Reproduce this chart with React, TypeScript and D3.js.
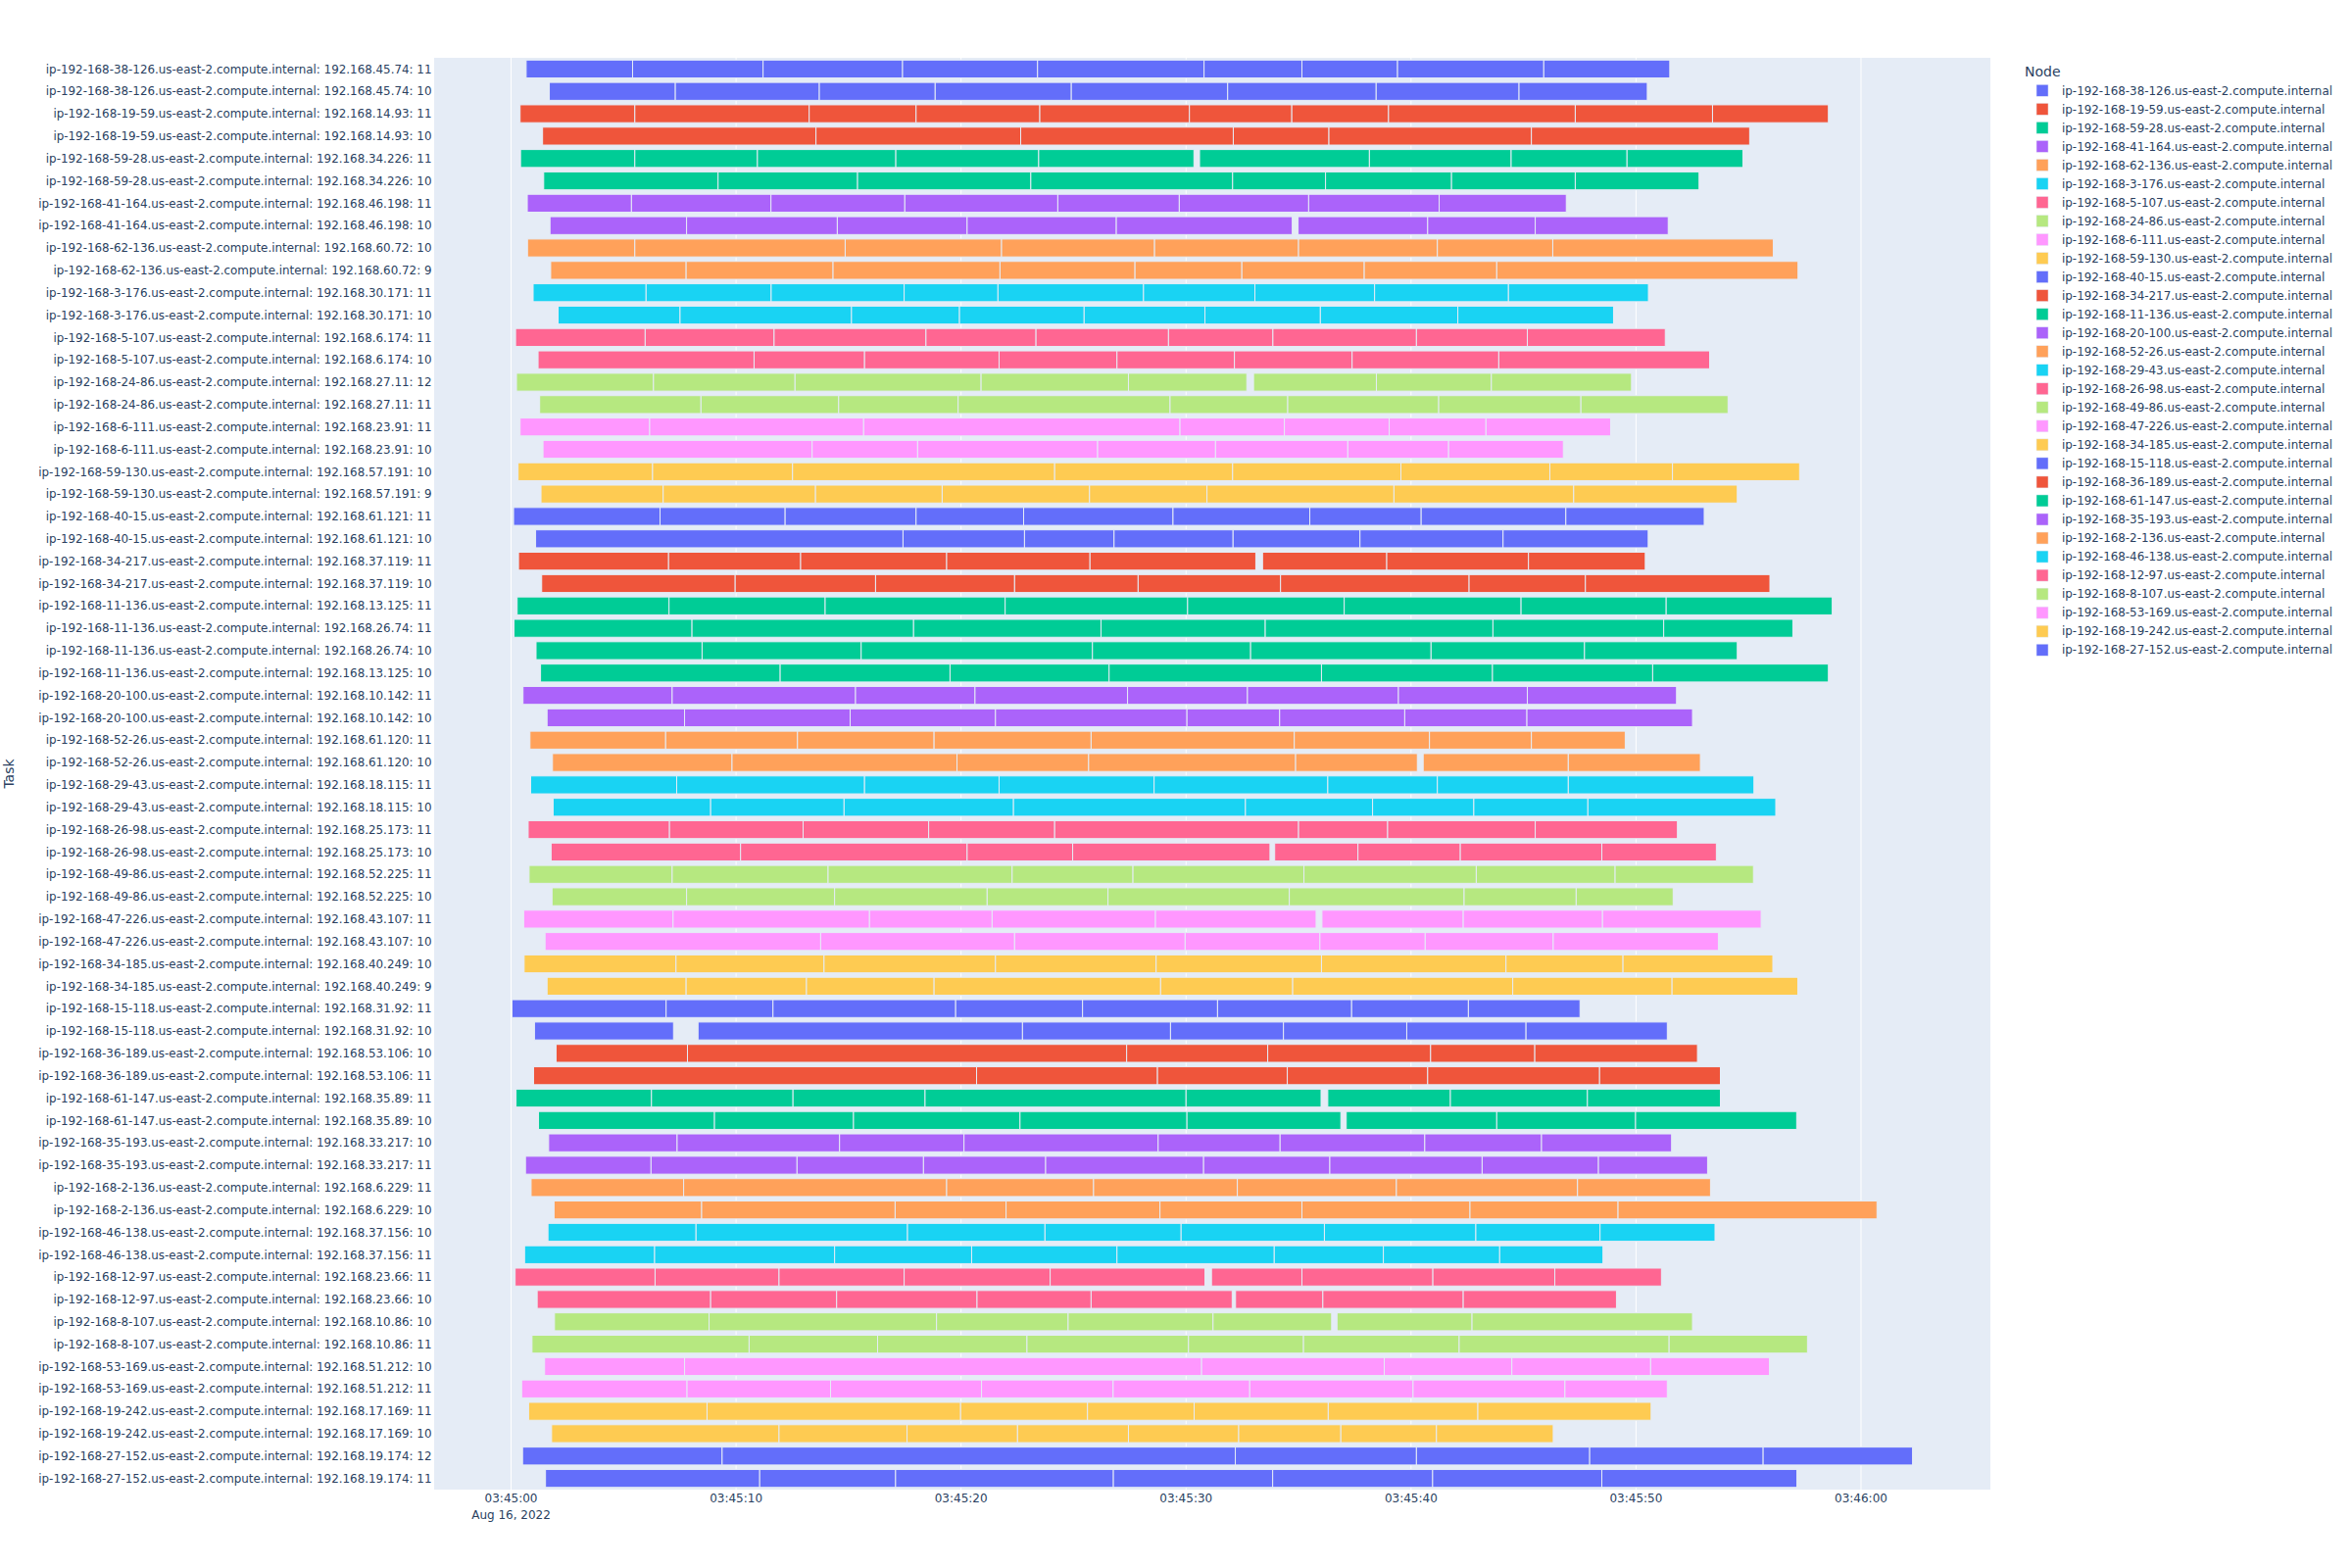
import { useEffect, useRef } from "react";
import * as d3 from "d3";

// legend order = node order (short ids, expanded below)
const nodeIds = [
  "38-126", "19-59", "59-28", "41-164", "62-136", "3-176", "5-107", "24-86",
  "6-111", "59-130", "40-15", "34-217", "11-136", "20-100", "52-26", "29-43",
  "26-98", "49-86", "47-226", "34-185", "15-118", "36-189", "61-147", "35-193",
  "2-136", "46-138", "12-97", "8-107", "53-169", "19-242", "27-152",
];

const palette = [
  "#636efa", "#EF553B", "#00cc96", "#ab63fa", "#FFA15A",
  "#19d3f3", "#FF6692", "#B6E880", "#FF97FF", "#FECB52",
];

// one entry per task row, top to bottom
const taskNode = [
  0, 0, 1, 1, 2, 2, 3, 3, 4, 4, 5, 5, 6, 6, 7, 7, 8, 8, 9, 9, 10, 10, 11, 11,
  12, 12, 12, 12, 13, 13, 14, 14, 15, 15, 16, 16, 17, 17, 18, 18, 19, 19,
  20, 20, 21, 21, 22, 22, 23, 23, 24, 24, 25, 25, 26, 26, 27, 27, 28, 28,
  29, 29, 30, 30,
];

const taskIp = [
  "45.74", "45.74", "14.93", "14.93", "34.226", "34.226", "46.198", "46.198",
  "60.72", "60.72", "30.171", "30.171", "6.174", "6.174", "27.11", "27.11",
  "23.91", "23.91", "57.191", "57.191", "61.121", "61.121", "37.119", "37.119",
  "13.125", "26.74", "26.74", "13.125", "10.142", "10.142", "61.120", "61.120",
  "18.115", "18.115", "25.173", "25.173", "52.225", "52.225", "43.107", "43.107",
  "40.249", "40.249", "31.92", "31.92", "53.106", "53.106", "35.89", "35.89",
  "33.217", "33.217", "6.229", "6.229", "37.156", "37.156", "23.66", "23.66",
  "10.86", "10.86", "51.212", "51.212", "17.169", "17.169", "19.174", "19.174",
];

const taskSlot = [
  11, 10, 11, 10, 11, 10, 11, 10, 10, 9, 11, 10, 11, 10, 12, 11,
  11, 10, 10, 9, 11, 10, 11, 10, 11, 11, 10, 10, 11, 10, 11, 10,
  11, 10, 11, 10, 11, 10, 11, 10, 10, 9, 11, 10, 10, 11, 11, 10,
  10, 11, 11, 10, 10, 11, 11, 10, 10, 11, 10, 11, 11, 10, 12, 11,
];

// seconds after 03:45:00; each inner list is a run of back-to-back segments
const taskRuns = [
  [[0.67, 5.4, 11.2, 17.4, 23.4, 30.8, 35.15, 39.4, 45.9, 51.5]],
  [[1.7, 7.3, 13.7, 18.85, 24.9, 31.85, 38.45, 44.8, 50.5]],
  [[0.4, 5.5, 13.25, 18.0, 23.5, 30.15, 34.7, 39.0, 47.3, 53.4, 58.55]],
  [[1.4, 13.55, 22.65, 32.1, 36.35, 45.35, 55.05]],
  [[0.42, 5.5, 10.95, 17.1, 23.45, 30.35], [30.6, 38.15, 44.45, 49.6, 54.75]],
  [[1.45, 9.2, 15.4, 23.1, 32.07, 36.2, 41.8, 47.3, 52.8]],
  [[0.72, 5.35, 11.55, 17.5, 24.3, 29.7, 35.45, 41.25, 46.9]],
  [[1.73, 7.8, 14.5, 20.27, 26.9, 34.72], [34.98, 40.74, 45.52, 51.43]],
  [[0.73, 5.5, 14.85, 21.8, 28.6, 35.0, 41.17, 46.3, 56.1]],
  [[1.76, 7.78, 14.31, 21.73, 27.73, 32.48, 37.92, 43.81, 57.2]],
  [[0.98, 6.0, 11.56, 17.47, 21.64, 28.11, 33.06, 38.38, 44.33, 50.55]],
  [[2.09, 7.51, 15.13, 19.93, 25.47, 30.84, 35.97, 42.08, 49.0]],
  [[0.2, 5.96, 11.69, 18.44, 23.33, 29.22, 33.86, 40.24, 45.17, 51.3]],
  [[1.2, 10.8, 15.71, 21.69, 26.93, 32.15, 37.38, 43.9, 53.27]],
  [[0.24, 6.33, 12.62, 20.89, 27.44, 32.7], [33.0, 38.46, 43.57, 49.8]],
  [[1.27, 8.44, 14.56, 19.87, 29.29, 34.52, 41.23, 47.55, 54.09]],
  [[0.4, 6.16, 15.67, 29.73, 34.37, 39.03, 43.33, 48.87]],
  [[1.42, 13.38, 18.07, 26.07, 31.31, 37.19, 41.67, 46.77]],
  [[0.31, 6.29, 12.51, 24.16, 32.07, 39.55, 46.17, 51.62, 57.27]],
  [[1.33, 6.76, 13.53, 19.16, 25.71, 30.93, 39.24, 47.23, 54.5]],
  [[0.11, 6.62, 12.18, 18.0, 22.78, 29.42, 35.5, 40.45, 46.88, 53.03]],
  [[1.09, 17.42, 22.82, 26.8, 32.09, 37.73, 44.09, 50.54]],
  [[0.33, 7.0, 12.87, 19.36, 25.73, 33.1], [33.4, 38.92, 45.22, 50.41]],
  [[1.36, 9.96, 16.2, 22.38, 27.87, 34.2, 42.58, 47.75, 55.95]],
  [[0.27, 7.02, 13.96, 21.96, 30.07, 37.03, 44.89, 51.34, 58.72]],
  [[0.13, 8.04, 17.89, 26.22, 33.52, 43.64, 51.23, 56.97]],
  [[1.11, 8.49, 15.56, 25.84, 32.87, 40.89, 47.71, 54.5]],
  [[1.31, 11.96, 19.51, 26.58, 36.02, 43.62, 50.74, 58.55]],
  [[0.53, 7.16, 15.31, 20.62, 27.4, 32.73, 39.44, 45.17, 51.8]],
  [[1.6, 7.71, 15.07, 21.53, 30.04, 34.16, 39.72, 45.15, 52.51]],
  [[0.84, 6.87, 12.73, 18.8, 25.78, 34.81, 40.82, 45.35, 49.52]],
  [[1.84, 9.82, 19.82, 25.67, 34.87, 40.28], [40.54, 46.99, 52.86]],
  [[0.87, 7.36, 15.71, 21.69, 28.58, 36.3, 41.17, 46.99, 55.24]],
  [[1.87, 8.87, 14.8, 22.33, 32.64, 38.29, 42.79, 47.86, 56.21]],
  [[0.76, 7.04, 12.98, 18.56, 24.16, 35.0, 38.96, 45.52, 51.84]],
  [[1.78, 10.2, 20.27, 24.96, 33.73], [33.94, 37.64, 42.19, 48.48, 53.57]],
  [[0.8, 7.16, 14.09, 22.27, 27.64, 35.24, 42.9, 49.07, 55.22]],
  [[1.82, 7.8, 14.38, 21.16, 26.53, 34.59, 42.36, 47.34, 51.65]],
  [[0.56, 7.2, 15.93, 21.38, 28.64, 35.78], [36.04, 42.32, 48.51, 55.56]],
  [[1.51, 13.76, 22.38, 29.96, 35.95, 40.63, 46.32, 53.66]],
  [[0.58, 7.33, 13.91, 21.53, 28.67, 36.02, 44.22, 49.42, 56.08]],
  [[1.6, 7.78, 13.13, 18.8, 28.87, 34.74, 44.52, 51.6, 57.19]],
  [[0.04, 6.89, 11.64, 19.76, 25.4, 31.4, 37.36, 42.55, 47.51]],
  [[1.04, 7.22], [8.31, 22.73, 29.31, 34.33, 39.81, 45.11, 51.39]],
  [[2.0, 7.84, 27.36, 33.63, 40.87, 45.5, 52.73]],
  [[1.0, 20.69, 28.73, 34.5, 40.74, 48.38, 53.75]],
  [[0.22, 6.24, 12.53, 18.4, 30.0, 36.0], [36.3, 41.75, 47.84, 53.75]],
  [[1.22, 9.04, 15.22, 22.62, 30.04, 36.88], [37.12, 43.81, 49.98, 57.14]],
  [[1.67, 7.38, 14.6, 20.13, 28.76, 34.18, 40.61, 45.8, 51.58]],
  [[0.64, 6.22, 12.71, 18.33, 23.76, 30.78, 36.39, 43.16, 48.33, 53.18]],
  [[0.89, 7.67, 19.36, 25.89, 32.28, 39.35, 47.4, 53.31]],
  [[1.91, 8.47, 17.07, 22.0, 28.84, 35.15, 42.62, 49.2, 60.71]],
  [[1.64, 8.22, 17.62, 23.73, 29.78, 36.15, 42.88, 48.4, 53.51]],
  [[0.6, 6.38, 14.38, 20.47, 26.93, 33.92, 38.77, 43.94, 48.53]],
  [[0.18, 6.4, 11.91, 17.47, 23.96, 30.84], [31.13, 35.15, 40.97, 46.39, 51.13]],
  [[1.16, 8.87, 14.47, 20.71, 25.78, 32.05], [32.2, 36.08, 42.32, 49.13]],
  [[1.93, 8.8, 18.91, 24.76, 31.2, 36.47], [36.71, 42.71, 52.51]],
  [[0.93, 10.58, 16.29, 22.93, 30.11, 35.22, 42.14, 51.47, 57.62]],
  [[1.49, 7.71, 30.69, 38.81, 44.48, 50.65, 55.93]],
  [[0.47, 7.82, 14.2, 20.91, 26.76, 32.83, 40.09, 46.84, 51.39]],
  [[0.78, 8.71, 19.98, 25.62, 30.36, 36.32, 42.97, 50.67]],
  [[1.8, 11.91, 17.6, 22.51, 27.44, 32.34, 36.88, 41.13, 46.32]],
  [[0.51, 9.38, 32.19, 40.24, 47.94, 55.65, 62.29]],
  [[1.53, 11.05, 17.09, 26.77, 33.85, 40.96, 48.48, 57.15]],
];

const startTime = new Date(2022, 7, 16, 3, 45, 0);
const rangeSeconds = [-3.42, 65.75];
const tickSeconds = [0, 10, 20, 30, 40, 50, 60];

const FONT = "'DejaVu Sans', 'Open Sans', sans-serif";
const TEXT = "#2a3f5f";

const nodeName = id => `ip-192-168-${id}.us-east-2.compute.internal`;
const at = s => new Date(startTime.getTime() + s * 1000);

export default function App() {
  const ref = useRef(null);

  useEffect(() => {
    const width = 2400;
    const height = 1600;
    const plot = { left: 443, right: 2031, top: 59, bottom: 1520 };

    const svg = d3.select(ref.current)
      .attr("width", width)
      .attr("height", height);
    svg.selectAll("*").remove();

    svg.append("rect")
      .attr("width", width).attr("height", height).attr("fill", "#fff");

    const x = d3.scaleTime()
      .domain(rangeSeconds.map(at))
      .range([plot.left, plot.right]);

    const y = d3.scaleBand()
      .domain(d3.range(taskNode.length))
      .range([plot.top, plot.bottom])
      .paddingInner(0.2)
      .paddingOuter(0.1);

    svg.append("rect")
      .attr("x", plot.left).attr("y", plot.top)
      .attr("width", plot.right - plot.left)
      .attr("height", plot.bottom - plot.top)
      .attr("fill", "#E5ECF6");

    // vertical grid
    svg.append("g")
      .selectAll("line")
      .data(tickSeconds)
      .join("line")
        .attr("x1", s => x(at(s))).attr("x2", s => x(at(s)))
        .attr("y1", plot.top).attr("y2", plot.bottom)
        .attr("stroke", "#fff").attr("stroke-width", 1);

    // flatten runs into segments
    const segs = [];
    taskRuns.forEach((runs, row) => {
      runs.forEach(run => {
        for (let i = 0; i < run.length - 1; i++) {
          segs.push({ row, s: run[i], e: run[i + 1] });
        }
      });
    });

    svg.append("g")
      .selectAll("rect")
      .data(segs)
      .join("rect")
        .attr("x", d => x(at(d.s)))
        .attr("y", d => y(d.row))
        .attr("width", d => x(at(d.e)) - x(at(d.s)))
        .attr("height", y.bandwidth())
        .attr("fill", d => palette[taskNode[d.row] % palette.length])
        .attr("stroke", "#E5ECF6")
        .attr("stroke-width", 1);

    // y labels
    svg.append("g")
      .selectAll("text")
      .data(taskNode)
      .join("text")
        .attr("x", plot.left - 2.5)
        .attr("y", (d, i) => y(i) + y.bandwidth() / 2 + 4.2)
        .attr("text-anchor", "end")
        .attr("font-family", FONT).attr("font-size", 11.9).attr("fill", TEXT)
        .text((d, i) => `${nodeName(nodeIds[d])}: 192.168.${taskIp[i]}: ${taskSlot[i]}`);

    // x tick labels
    const fmt = d3.timeFormat("%H:%M:%S");
    const xt = svg.append("g");
    xt.selectAll("text")
      .data(tickSeconds)
      .join("text")
        .attr("x", s => x(at(s)))
        .attr("y", plot.bottom + 12.5)
        .attr("text-anchor", "middle")
        .attr("font-family", FONT).attr("font-size", 12).attr("fill", TEXT)
        .text(s => fmt(at(s)));
    xt.append("text")
      .attr("x", x(startTime))
      .attr("y", plot.bottom + 29.5)
      .attr("text-anchor", "middle")
      .attr("font-family", FONT).attr("font-size", 12).attr("fill", TEXT)
      .text(d3.timeFormat("%b %-d, %Y")(startTime));

    svg.append("text")
      .attr("transform", `translate(14,${(plot.top + plot.bottom) / 2}) rotate(-90)`)
      .attr("text-anchor", "middle")
      .attr("font-family", FONT).attr("font-size", 14).attr("fill", TEXT)
      .text("Task");

    // legend
    const lg = svg.append("g").attr("transform", "translate(2066,0)");
    lg.append("text")
      .attr("x", 0).attr("y", 78)
      .attr("font-family", FONT).attr("font-size", 14).attr("fill", TEXT)
      .text("Node");
    const item = lg.selectAll("g.item")
      .data(nodeIds)
      .join("g")
        .attr("class", "item")
        .attr("transform", (d, i) => `translate(0,${92.3 + i * 19.03})`);
    item.append("rect")
      .attr("x", 12).attr("y", -6).attr("width", 12).attr("height", 12)
      .attr("fill", (d, i) => palette[i % palette.length])
      .attr("stroke", "#E5ECF6").attr("stroke-width", 0.5);
    item.append("text")
      .attr("x", 38).attr("y", 4.2)
      .attr("font-family", FONT).attr("font-size", 11.9).attr("fill", TEXT)
      .text(d => nodeName(d));
  }, []);

  return (
    <svg ref={ref} style={{ position: "absolute", left: 0, top: 0, display: "block" }} />
  );
}
